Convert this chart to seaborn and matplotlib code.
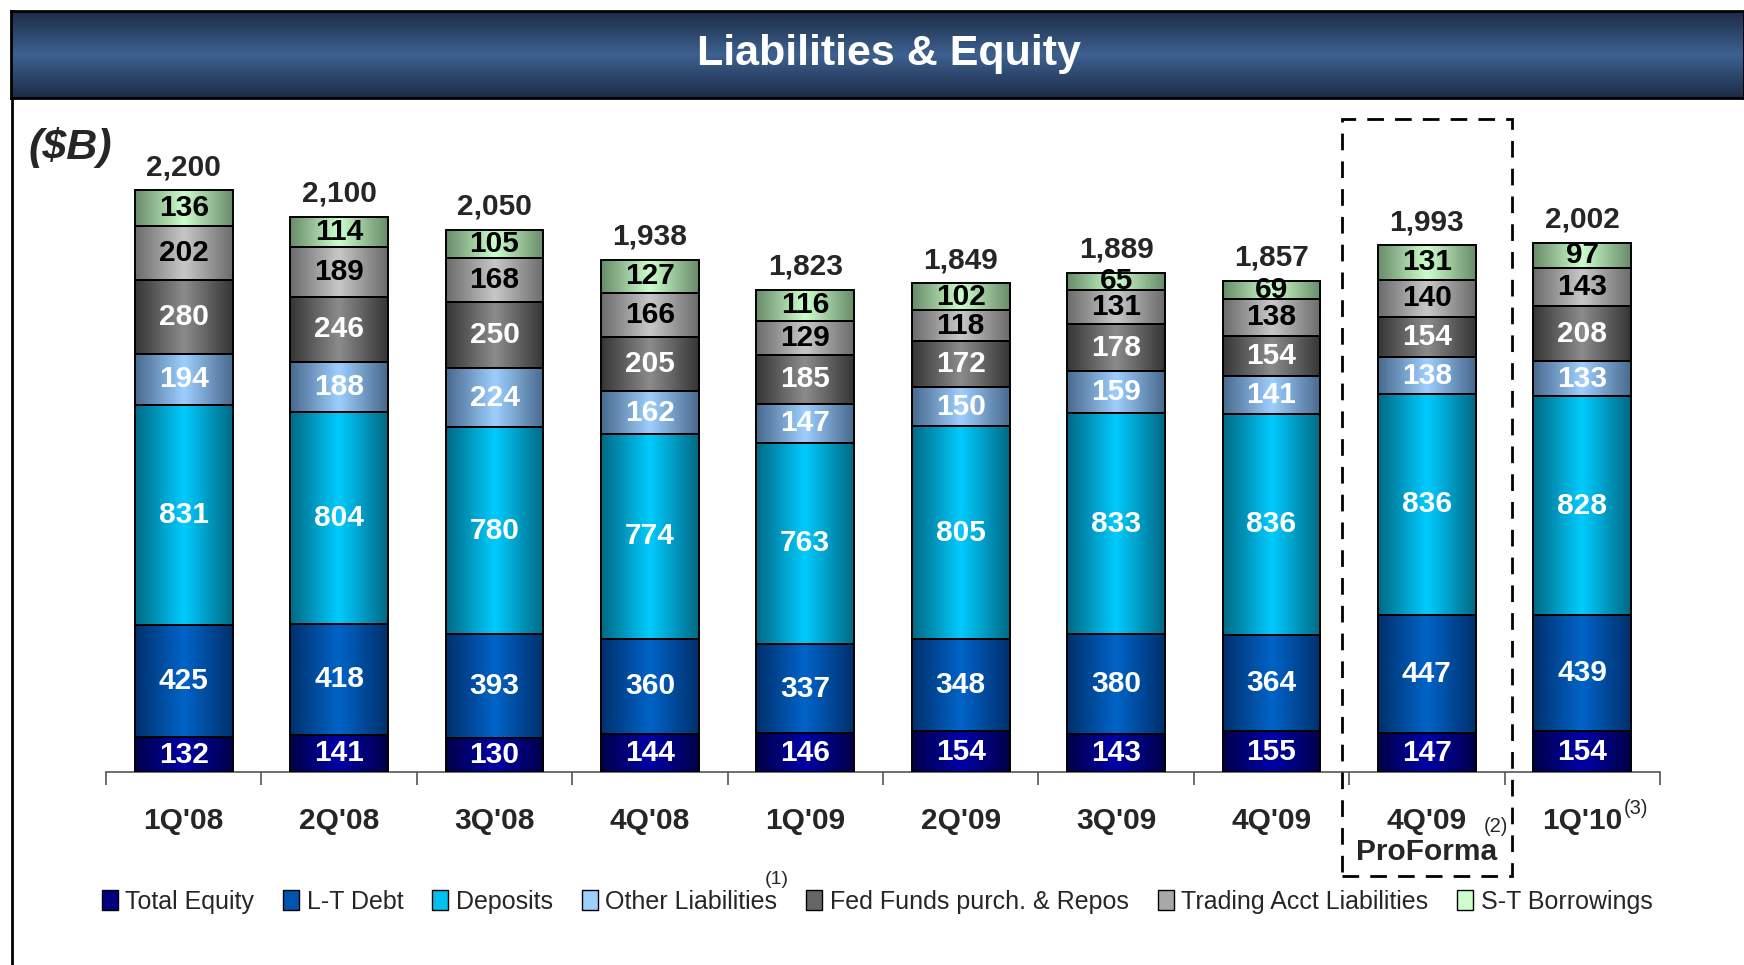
import numpy as np
import pandas as pd
import matplotlib
matplotlib.use("Agg")
import matplotlib.pyplot as plt
import seaborn as sns
from matplotlib.colors import LinearSegmentedColormap
from matplotlib.patches import Patch, Rectangle
from matplotlib.lines import Line2D

# data ($B)
quarters = ["1Q'08", "2Q'08", "3Q'08", "4Q'08", "1Q'09", "2Q'09", "3Q'09", "4Q'09", "4Q'09 PF", "1Q'10"]
tick_labels = ["1Q'08", "2Q'08", "3Q'08", "4Q'08", "1Q'09", "2Q'09", "3Q'09", "4Q'09", "4Q'09", "1Q'10"]
total_equity = [132, 141, 130, 144, 146, 154, 143, 155, 147, 154]
lt_debt = [425, 418, 393, 360, 337, 348, 380, 364, 447, 439]
deposits = [831, 804, 780, 774, 763, 805, 833, 836, 836, 828]
other_liab = [194, 188, 224, 162, 147, 150, 159, 141, 138, 133]
fed_funds = [280, 246, 250, 205, 185, 172, 178, 154, 154, 208]
trading_liab = [202, 189, 168, 166, 129, 118, 131, 138, 140, 143]
st_borrow = [136, 114, 105, 127, 116, 102, 65, 69, 131, 97]
totals = [2200, 2100, 2050, 1938, 1823, 1849, 1889, 1857, 1993, 2002]

series = [
    ("Total Equity", total_equity, "#00004a", "#0000a8", "white"),
    ("L-T Debt", lt_debt, "#00306e", "#0064c8", "white"),
    ("Deposits", deposits, "#006a86", "#00ccff", "white"),
    ("Other Liabilities", other_liab, "#4a6a8e", "#9dcfff", "white"),
    ("Fed Funds purch. & Repos", fed_funds, "#363636", "#8c8c8c", "white"),
    ("Trading Acct Liabilities", trading_liab, "#6c6c6c", "#c8c8c8", "black"),
    ("S-T Borrowings", st_borrow, "#6a8c6a", "#ccffcc", "black"),
]
legend_colors = ["#000080", "#0055b0", "#00c0f0", "#9dcfff", "#666666", "#a8a8a8", "#ccffcc"]

df = pd.DataFrame({"quarter": quarters})

sns.set_style("white")
plt.rcParams["font.family"] = ["Liberation Sans", "DejaVu Sans"]

fig = plt.figure(figsize=(17.44, 9.65), dpi=100)
ax = fig.add_axes([106 / 1744, 0.2, 1554 / 1744, 0.6795])

grad = np.linspace(0, 1, 64).reshape(1, -1)
bottom = np.zeros(len(quarters))
for name, vals, edge, center, tcol in series:
    df[name] = vals
    sns.barplot(data=df, x="quarter", y=name, bottom=bottom, color=center, saturation=1,
                width=0.63, edgecolor="black", linewidth=1.4, ax=ax, zorder=3)
    cont = ax.containers[-1]
    cmap = LinearSegmentedColormap.from_list(name, [edge, center, edge])
    for patch in cont.patches:
        x0, y0 = patch.get_x(), patch.get_y()
        w, h = patch.get_width(), patch.get_height()
        im = ax.imshow(grad, cmap=cmap, extent=[x0, x0 + w, y0, y0 + h], aspect="auto",
                       zorder=2.5, interpolation="bicubic")
        im.set_clip_path(patch)
        patch.set_facecolor("none")
    for i, v in enumerate(vals):
        ax.text(i, bottom[i] + v / 2, str(v), ha="center", va="center", color=tcol,
                fontsize=21.5, fontweight="bold", zorder=5)
    bottom = bottom + np.array(vals)

for i, t in enumerate(totals):
    ax.annotate(f"{t:,}", (i, t), xytext=(0, 6.5), textcoords="offset points",
                ha="center", va="bottom", fontsize=21.5, fontweight="bold", zorder=5)

ax.set_xlim(-0.5, len(quarters) - 0.5)
ax.set_ylim(0, 2480)
ax.set_xlabel("")
ax.set_ylabel("")
ax.set_yticks([])
for s in ["top", "right", "left"]:
    ax.spines[s].set_visible(False)
ax.spines["bottom"].set_color("#555555")
ax.spines["bottom"].set_linewidth(1.2)
ax.set_xticks(range(len(quarters)))
ax.set_xticklabels(tick_labels, fontsize=21.5, fontweight="bold")
ax.tick_params(axis="x", which="major", length=0, pad=25)
ax.set_xticks(np.arange(-0.5, len(quarters)), minor=True)
ax.tick_params(axis="x", which="minor", bottom=True, length=9, width=1.2, color="#555555",
               direction="out")

# second line of the pro-forma label
fig.text(1427 / 1744, 1 - 852 / 965, "ProForma", fontsize=21.5, fontweight="bold",
         ha="center", va="center")

# superscripts
fig.text(1496 / 1744, 1 - 827 / 965, "(2)", fontsize=14.5, ha="center", va="center")
fig.text(1636 / 1744, 1 - 808 / 965, "(3)", fontsize=14.5, ha="center", va="center")

# dashed pro-forma box
box = Rectangle((7.455, -395), 1.095, 2865, fill=False, linestyle=(0, (6, 4)), linewidth=2,
                edgecolor="black", clip_on=False, zorder=6)
ax.add_patch(box)

# title bar
tax = fig.add_axes([11 / 1744, 1 - 98 / 965, 1 - 11 / 1744, 87 / 965])
vgrad = np.linspace(0, 1, 100).reshape(-1, 1)
tcmap = LinearSegmentedColormap.from_list("tb", ["#1d2c47", "#3d6190", "#1d2c47"])
tax.imshow(vgrad, cmap=tcmap, aspect="auto", extent=[0, 1, 0, 1], interpolation="bicubic")
tax.set_xticks([])
tax.set_yticks([])
for s in tax.spines.values():
    s.set_color("black")
    s.set_linewidth(2)
tax.text(0.5065, 0.5, "Liabilities & Equity", color="white", fontsize=31, fontweight="bold",
         ha="center", va="center", transform=tax.transAxes)

fig.add_artist(Line2D([12 / 1744, 12 / 1744], [0, 1 - 98 / 965], color="black", linewidth=2))

fig.text(28 / 1744, 1 - 148 / 965, "($B)", fontsize=31, fontweight="bold", style="italic",
         ha="left", va="center")

# legend
handles = [Patch(facecolor=c, edgecolor="black", linewidth=1) for c in legend_colors]
leg = fig.legend(handles, [s[0] for s in series], loc="center", bbox_to_anchor=(0.503, 0.0655),
                 ncol=7, frameon=False, handlelength=0.65, handleheight=0.85, handletextpad=0.3,
                 columnspacing=1.15, prop={"family": ["Liberation Sans Narrow", "Liberation Sans"], "size": 18})
fig.text(777 / 1744, 1 - 879 / 965, "(1)", fontsize=14, ha="center", va="center",
         family=["Liberation Sans Narrow", "Liberation Sans"])

fig.savefig("out.png", dpi=100)
